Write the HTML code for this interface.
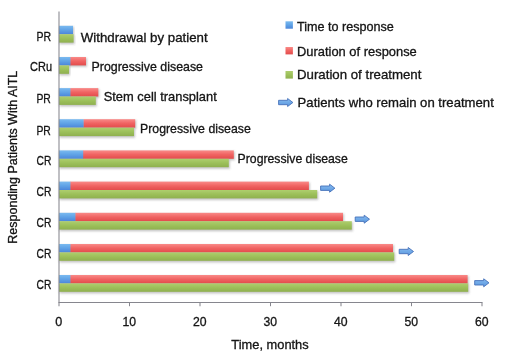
<!DOCTYPE html>
<html><head><meta charset="utf-8"><title>chart</title>
<style>
html,body{margin:0;padding:0;background:#fff;}
body{width:520px;height:354px;overflow:hidden;font-family:"Liberation Sans",sans-serif;}
svg{display:block;}
text{font-family:"Liberation Sans",sans-serif;font-size:12.6px;fill:#141414;stroke:#141414;stroke-width:0.3px;}
</style></head><body>
<svg width="520" height="354" viewBox="0 0 520 354">
<defs>
<linearGradient id="gb" x1="0" y1="0" x2="0" y2="1"><stop offset="0" stop-color="#7abaf0"/><stop offset="0.5" stop-color="#5fa2e6"/><stop offset="1" stop-color="#4c86da"/></linearGradient>
<linearGradient id="gr" x1="0" y1="0" x2="0" y2="1"><stop offset="0" stop-color="#f98a88"/><stop offset="0.5" stop-color="#f06362"/><stop offset="1" stop-color="#e24c4c"/></linearGradient>
<linearGradient id="gg" x1="0" y1="0" x2="0" y2="1"><stop offset="0" stop-color="#aece6e"/><stop offset="0.5" stop-color="#9cc05a"/><stop offset="1" stop-color="#8fb04e"/></linearGradient>
<linearGradient id="ga" x1="0" y1="0" x2="0" y2="1"><stop offset="0" stop-color="#86bcf0"/><stop offset="1" stop-color="#5a96de"/></linearGradient>
<filter id="sh" x="-5%" y="-20%" width="110%" height="150%"><feGaussianBlur stdDeviation="0.9"/></filter>
<filter id="soft" x="-2%" y="-2%" width="104%" height="104%"><feGaussianBlur stdDeviation="0.55"/></filter>
</defs>
<rect width="520" height="354" fill="#fff"/>
<g filter="url(#soft)">

<rect x="59.5" y="26.8" width="14.5" height="8.8" fill="#666" opacity="0.4" filter="url(#sh)"/>
<rect x="59.5" y="35.2" width="15.1" height="9.0" fill="#666" opacity="0.4" filter="url(#sh)"/>
<rect x="59.0" y="25.8" width="14.0" height="8.4" fill="url(#gb)"/>
<rect x="59.0" y="34.2" width="14.6" height="8.4" fill="url(#gg)"/>
<rect x="59.5" y="58.0" width="27.5" height="8.8" fill="#666" opacity="0.4" filter="url(#sh)"/>
<rect x="59.5" y="66.4" width="10.5" height="9.0" fill="#666" opacity="0.4" filter="url(#sh)"/>
<rect x="70.1" y="57.0" width="15.9" height="8.4" fill="url(#gr)"/>
<rect x="59.0" y="57.0" width="11.4" height="8.4" fill="url(#gb)"/>
<rect x="59.0" y="65.4" width="10.0" height="8.4" fill="url(#gg)"/>
<rect x="59.5" y="89.1" width="39.8" height="8.8" fill="#666" opacity="0.4" filter="url(#sh)"/>
<rect x="59.5" y="97.5" width="37.3" height="9.0" fill="#666" opacity="0.4" filter="url(#sh)"/>
<rect x="70.1" y="88.1" width="28.2" height="8.4" fill="url(#gr)"/>
<rect x="59.0" y="88.1" width="11.4" height="8.4" fill="url(#gb)"/>
<rect x="59.0" y="96.5" width="36.8" height="8.4" fill="url(#gg)"/>
<rect x="59.5" y="120.2" width="76.7" height="8.8" fill="#666" opacity="0.4" filter="url(#sh)"/>
<rect x="59.5" y="128.7" width="75.5" height="9.0" fill="#666" opacity="0.4" filter="url(#sh)"/>
<rect x="83.3" y="119.2" width="51.9" height="8.4" fill="url(#gr)"/>
<rect x="59.0" y="119.2" width="24.6" height="8.4" fill="url(#gb)"/>
<rect x="59.0" y="127.7" width="75.0" height="8.4" fill="url(#gg)"/>
<rect x="59.5" y="151.4" width="175.3" height="8.8" fill="#666" opacity="0.4" filter="url(#sh)"/>
<rect x="59.5" y="159.8" width="170.3" height="9.0" fill="#666" opacity="0.4" filter="url(#sh)"/>
<rect x="82.9" y="150.4" width="150.9" height="8.4" fill="url(#gr)"/>
<rect x="59.0" y="150.4" width="24.2" height="8.4" fill="url(#gb)"/>
<rect x="59.0" y="158.8" width="169.8" height="8.4" fill="url(#gg)"/>
<rect x="59.5" y="182.6" width="250.4" height="8.8" fill="#666" opacity="0.4" filter="url(#sh)"/>
<rect x="59.5" y="191.0" width="258.7" height="9.0" fill="#666" opacity="0.4" filter="url(#sh)"/>
<rect x="70.1" y="181.6" width="238.8" height="8.4" fill="url(#gr)"/>
<rect x="59.0" y="181.6" width="11.4" height="8.4" fill="url(#gb)"/>
<rect x="59.0" y="190.0" width="258.2" height="8.4" fill="url(#gg)"/>
<path transform="translate(320.6,188.2)" d="M0,-2.2 H9.0 V-4.0 L14.3,0 L9.0,4.0 V2.2 H0 Z" fill="url(#ga)" stroke="#4672ba" stroke-width="0.9"/>
<rect x="59.5" y="213.8" width="284.5" height="8.8" fill="#666" opacity="0.4" filter="url(#sh)"/>
<rect x="59.5" y="222.2" width="293.3" height="9.0" fill="#666" opacity="0.4" filter="url(#sh)"/>
<rect x="75.1" y="212.8" width="267.9" height="8.4" fill="url(#gr)"/>
<rect x="59.0" y="212.8" width="16.4" height="8.4" fill="url(#gb)"/>
<rect x="59.0" y="221.2" width="292.8" height="8.4" fill="url(#gg)"/>
<path transform="translate(355.2,219.2)" d="M0,-2.2 H9.0 V-4.0 L14.3,0 L9.0,4.0 V2.2 H0 Z" fill="url(#ga)" stroke="#4672ba" stroke-width="0.9"/>
<rect x="59.5" y="245.0" width="334.5" height="8.8" fill="#666" opacity="0.4" filter="url(#sh)"/>
<rect x="59.5" y="253.4" width="335.7" height="9.0" fill="#666" opacity="0.4" filter="url(#sh)"/>
<rect x="70.1" y="244.0" width="322.9" height="8.4" fill="url(#gr)"/>
<rect x="59.0" y="244.0" width="11.4" height="8.4" fill="url(#gb)"/>
<rect x="59.0" y="252.4" width="335.2" height="8.4" fill="url(#gg)"/>
<path transform="translate(399.2,251.5)" d="M0,-2.2 H9.0 V-4.0 L14.3,0 L9.0,4.0 V2.2 H0 Z" fill="url(#ga)" stroke="#4672ba" stroke-width="0.9"/>
<rect x="59.5" y="276.0" width="409.1" height="8.8" fill="#666" opacity="0.4" filter="url(#sh)"/>
<rect x="59.5" y="284.4" width="409.7" height="9.0" fill="#666" opacity="0.4" filter="url(#sh)"/>
<rect x="70.1" y="275.0" width="397.5" height="8.4" fill="url(#gr)"/>
<rect x="59.0" y="275.0" width="11.4" height="8.4" fill="url(#gb)"/>
<rect x="59.0" y="283.4" width="409.2" height="8.4" fill="url(#gg)"/>
<path transform="translate(474.7,282.8)" d="M0,-2.2 H9.0 V-4.0 L14.3,0 L9.0,4.0 V2.2 H0 Z" fill="url(#ga)" stroke="#4672ba" stroke-width="0.9"/>
<g stroke="#86868e" stroke-width="1.05" fill="none">
<path d="M59,11.5 V302.5"/>
<path d="M58.4,302.5 H482.5"/>
<path d="M59.0,302.5 V306.2"/>
<path d="M129.5,302.5 V306.2"/>
<path d="M200.0,302.5 V306.2"/>
<path d="M270.5,302.5 V306.2"/>
<path d="M341.0,302.5 V306.2"/>
<path d="M411.5,302.5 V306.2"/>
<path d="M482.0,302.5 V306.2"/>
</g>
<rect x="285.5" y="21.3" width="7.4" height="7.4" fill="url(#gb)"/>
<rect x="285.5" y="47.0" width="7.4" height="7.4" fill="url(#gr)"/>
<rect x="285.5" y="71.0" width="7.4" height="7.6" fill="url(#gg)"/>
<path transform="translate(278.6,102.5)" d="M0,-2.2 H9.0 V-4.0 L14.3,0 L9.0,4.0 V2.2 H0 Z" fill="url(#ga)" stroke="#4672ba" stroke-width="0.9"/>
<text x="297.0" y="31.3" textLength="96.8" lengthAdjust="spacingAndGlyphs" text-anchor="start">Time to response</text>
<text x="297.0" y="56.3" textLength="119.8" lengthAdjust="spacingAndGlyphs" text-anchor="start">Duration of response</text>
<text x="297.0" y="79.2" textLength="124.4" lengthAdjust="spacingAndGlyphs" text-anchor="start">Duration of treatment</text>
<text x="297.6" y="107.0" textLength="196.2" lengthAdjust="spacingAndGlyphs" text-anchor="start">Patients who remain on treatment</text>
<text x="80.8" y="41.5" textLength="126.8" lengthAdjust="spacingAndGlyphs" text-anchor="start">Withdrawal by patient</text>
<text x="91.5" y="70.8" textLength="111.5" lengthAdjust="spacingAndGlyphs" text-anchor="start">Progressive disease</text>
<text x="103.7" y="101.2" textLength="113.1" lengthAdjust="spacingAndGlyphs" text-anchor="start">Stem cell transplant</text>
<text x="140.0" y="133.0" textLength="110.8" lengthAdjust="spacingAndGlyphs" text-anchor="start">Progressive disease</text>
<text x="237.6" y="163.3" textLength="110.2" lengthAdjust="spacingAndGlyphs" text-anchor="start">Progressive disease</text>
<text x="36.6" y="41.3" textLength="14.6" lengthAdjust="spacingAndGlyphs" text-anchor="start">PR</text>
<text x="30.1" y="70.7" textLength="22.0" lengthAdjust="spacingAndGlyphs" text-anchor="start">CRu</text>
<text x="36.4" y="103.4" textLength="14.4" lengthAdjust="spacingAndGlyphs" text-anchor="start">PR</text>
<text x="36.4" y="134.8" textLength="14.4" lengthAdjust="spacingAndGlyphs" text-anchor="start">PR</text>
<text x="36.6" y="164.8" textLength="14.8" lengthAdjust="spacingAndGlyphs" text-anchor="start">CR</text>
<text x="36.6" y="196.0" textLength="14.8" lengthAdjust="spacingAndGlyphs" text-anchor="start">CR</text>
<text x="36.6" y="227.0" textLength="14.8" lengthAdjust="spacingAndGlyphs" text-anchor="start">CR</text>
<text x="36.6" y="258.0" textLength="14.8" lengthAdjust="spacingAndGlyphs" text-anchor="start">CR</text>
<text x="36.6" y="289.2" textLength="14.8" lengthAdjust="spacingAndGlyphs" text-anchor="start">CR</text>
<text x="55.2" y="326.3" textLength="7.0" lengthAdjust="spacingAndGlyphs" text-anchor="start">0</text>
<text x="122.4" y="326.3" textLength="13.6" lengthAdjust="spacingAndGlyphs" text-anchor="start">10</text>
<text x="192.9" y="326.3" textLength="13.6" lengthAdjust="spacingAndGlyphs" text-anchor="start">20</text>
<text x="263.4" y="326.3" textLength="13.6" lengthAdjust="spacingAndGlyphs" text-anchor="start">30</text>
<text x="333.9" y="326.3" textLength="13.6" lengthAdjust="spacingAndGlyphs" text-anchor="start">40</text>
<text x="404.4" y="326.3" textLength="13.6" lengthAdjust="spacingAndGlyphs" text-anchor="start">50</text>
<text x="474.9" y="326.3" textLength="13.6" lengthAdjust="spacingAndGlyphs" text-anchor="start">60</text>
<text x="231.3" y="348.8" textLength="77.4" lengthAdjust="spacingAndGlyphs" text-anchor="start">Time, months</text>
<text transform="translate(17.4,243.7) rotate(-90)" x="0" y="0" textLength="173" lengthAdjust="spacingAndGlyphs">Responding Patients With AITL</text>
</g></svg></body></html>
